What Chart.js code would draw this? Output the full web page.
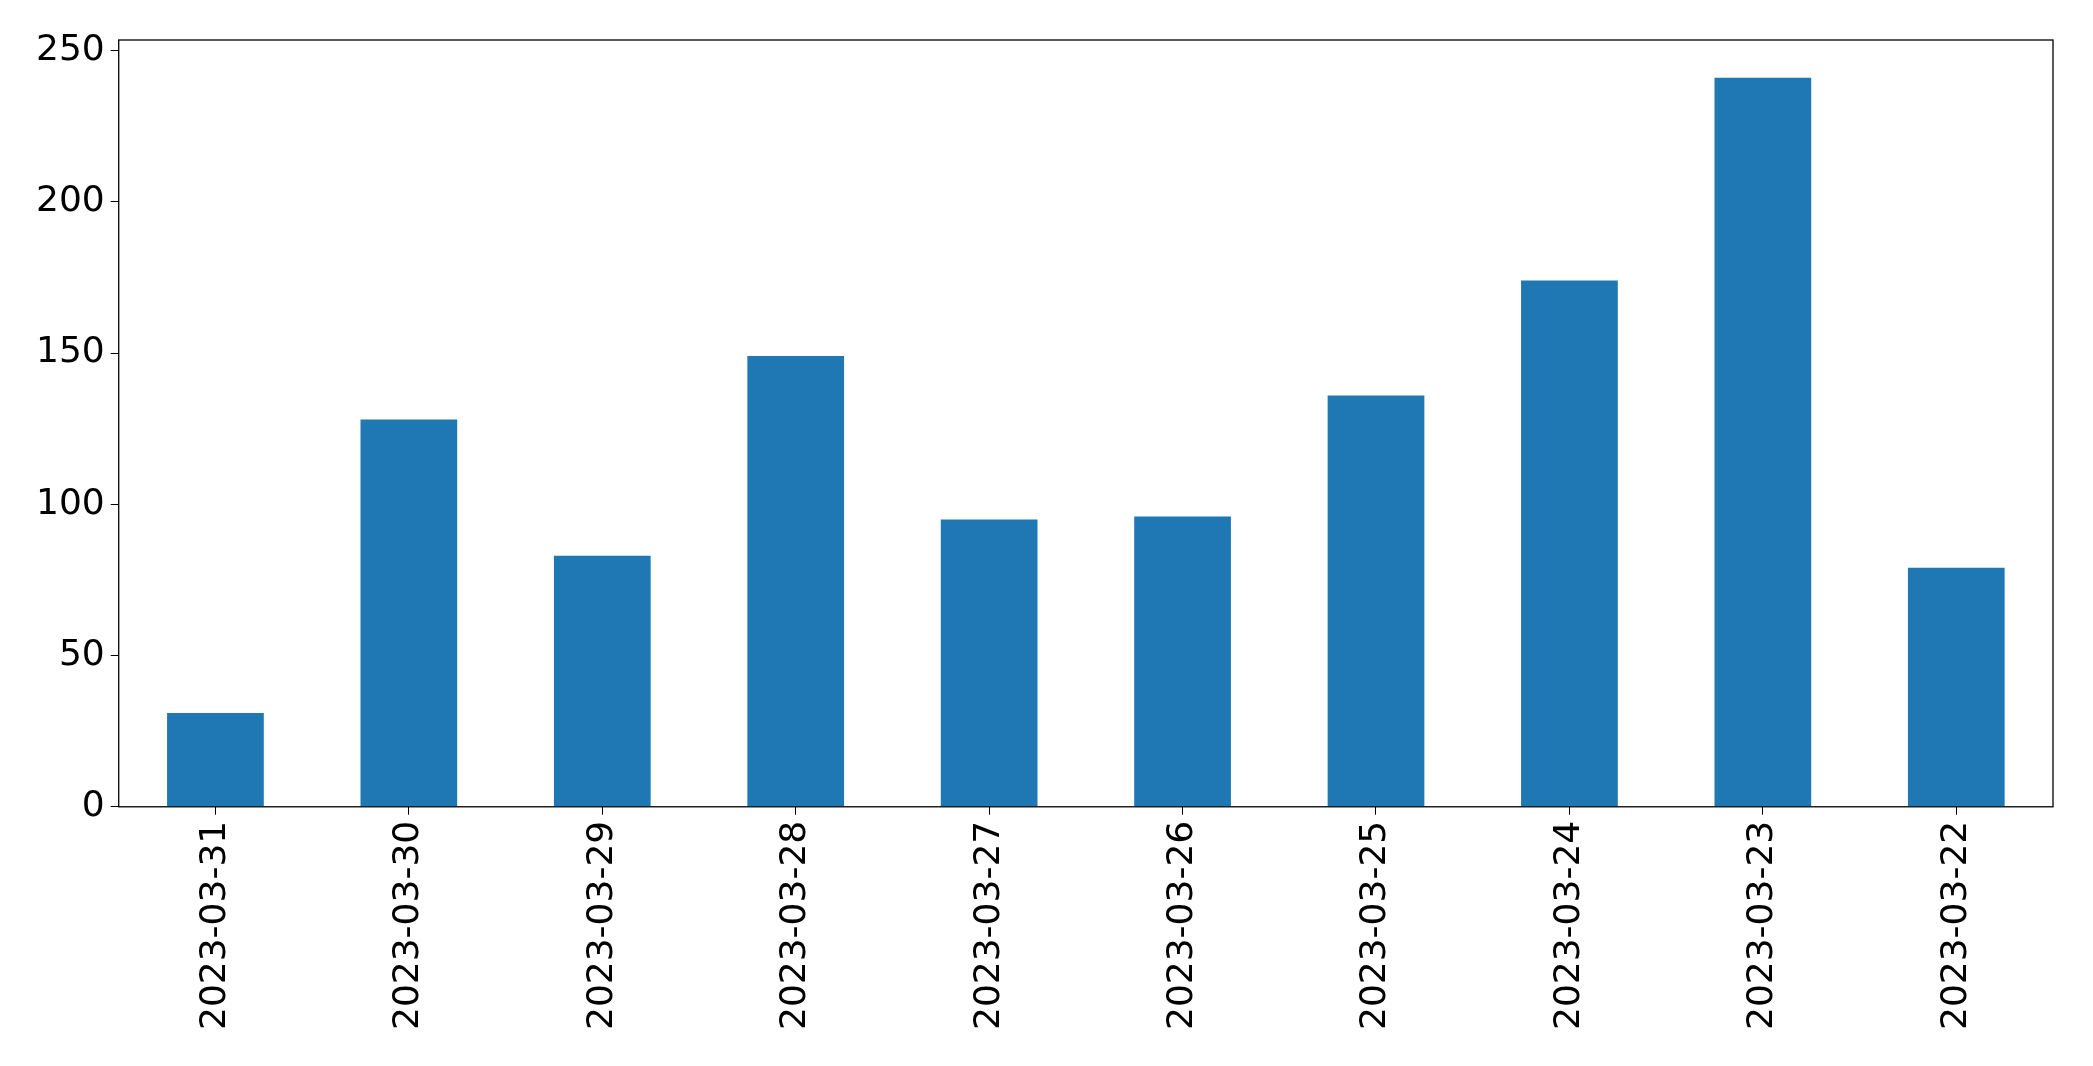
<!DOCTYPE html>
<html>
<head>
<meta charset="utf-8">
<script src="https://cdn.jsdelivr.net/npm/chart.js@4/dist/chart.umd.min.js"></script>
<style>
html, body { margin: 0; padding: 0; background: #fff; }
#wrap { width: 2093px; height: 1066px; }
</style>
</head>
<body>
<div id="wrap"><canvas id="chart"></canvas></div>
<script>
const dates = ['2023-03-31', '2023-03-30', '2023-03-29', '2023-03-28', '2023-03-27',
               '2023-03-26', '2023-03-25', '2023-03-24', '2023-03-23', '2023-03-22'];
const counts = [31, 128, 83, 149, 95, 96, 136, 174, 241, 79];
const yTicks = [0, 50, 100, 150, 200, 250];

// box around the plot area, like matplotlib spines
const frame = {
    id: 'frame',
    afterDraw(chart) {
        const a = chart.chartArea, c = chart.ctx;
        c.save();
        c.strokeStyle = '#000';
        c.lineWidth = 1.3;
        c.strokeRect(a.left, a.top, a.right - a.left, a.bottom - a.top);
        c.restore();
    }
};

const tickFont = { family: 'DejaVu Sans', size: 36 };

new Chart(document.getElementById('chart'), {
    type: 'bar',
    data: {
        labels: dates,
        datasets: [{
            data: counts,
            backgroundColor: '#1f77b4',
            categoryPercentage: 1.0,
            barPercentage: 0.5
        }]
    },
    options: {
        responsive: true,
        maintainAspectRatio: false,
        animation: false,
        layout: { padding: { top: 40, right: 40, left: 30, bottom: 30 } },
        plugins: { legend: { display: false }, tooltip: { enabled: false } },
        scales: {
            x: {
                grid: { drawOnChartArea: false, drawTicks: true, tickLength: 8, color: '#000', offset: false },
                border: { display: false },
                ticks: { color: '#000', maxRotation: 90, minRotation: 90, padding: 6, font: tickFont }
            },
            y: {
                min: 0, max: 253.5,
                afterBuildTicks: axis => { axis.ticks = yTicks.map(v => ({ value: v })); },
                grid: { drawOnChartArea: false, drawTicks: true, tickLength: 8, color: '#000' },
                border: { display: false },
                ticks: { color: '#000', padding: 6, autoSkip: false, font: tickFont }
            }
        }
    },
    plugins: [frame]
});
</script>
</body>
</html>
